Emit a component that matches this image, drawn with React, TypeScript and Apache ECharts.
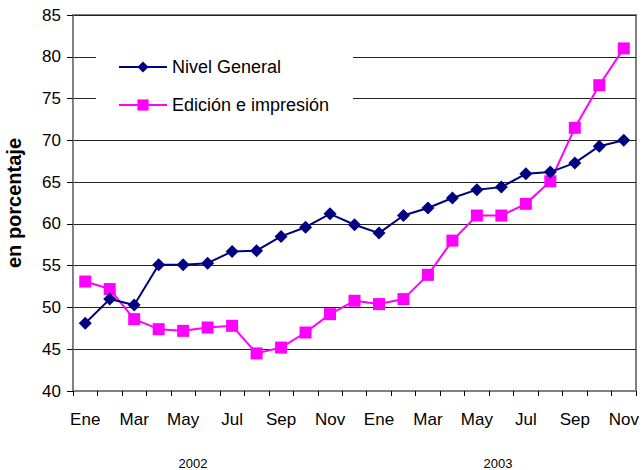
import React, { useEffect, useRef } from "react";
import * as echarts from "echarts";

const months = [
  "Ene", "Feb", "Mar", "Abr", "May", "Jun", "Jul", "Ago", "Sep", "Oct", "Nov", "Dic",
  "Ene", "Feb", "Mar", "Abr", "May", "Jun", "Jul", "Ago", "Sep", "Oct", "Nov",
];
const nivelGeneral = [
  48.1, 51.0, 50.3, 55.1, 55.1, 55.3, 56.7, 56.8, 58.5, 59.6, 61.2, 59.9,
  58.9, 61.0, 61.9, 63.1, 64.1, 64.4, 66.0, 66.2, 67.3, 69.3, 70.0,
];
const edicion = [
  53.1, 52.2, 48.6, 47.4, 47.2, 47.6, 47.8, 44.5, 45.2, 47.0, 49.2, 50.8,
  50.4, 51.0, 53.9, 58.0, 61.0, 61.0, 62.4, 65.1, 71.5, 76.6, 81.0,
];
const years = ["2002", "2003"];
const seriesNames = ["Nivel General", "Edición e impresión"];
const yAxisName = "en porcentaje";

const FONT = "Arial, 'Liberation Sans', sans-serif";

export default function App() {
  const ref = useRef<HTMLDivElement>(null);
  useEffect(() => {
    if (!ref.current) return;
    const chart = echarts.init(ref.current, null, { renderer: "svg" });
    chart.setOption({
      animation: false,
      backgroundColor: "#ffffff",
      textStyle: { fontFamily: FONT },
      grid: {
        left: 73,
        right: 7,
        top: 15,
        bottom: 79,
        containLabel: false,
        outerBoundsMode: "none",
        show: true,
        borderColor: "#808080",
        borderWidth: 2,
        backgroundColor: "transparent",
      },
      legend: {
        orient: "vertical",
        left: 96,
        top: 45,
        padding: [13, 24, 13, 22],
        backgroundColor: "#ffffff",
        itemWidth: 48,
        itemHeight: 14,
        itemGap: 20,
        textStyle: { fontSize: 18, color: "#000", fontFamily: FONT },
        data: seriesNames,
      },
      xAxis: {
        type: "category",
        data: months,
        boundaryGap: true,
        axisLine: { lineStyle: { color: "#808080", width: 2 } },
        axisTick: { show: true, interval: 0, length: 5, lineStyle: { color: "#000" } },
        axisLabel: {
          interval: 1,
          margin: 20,
          fontSize: 17,
          color: "#000",
          fontFamily: FONT,
        },
        splitLine: { show: false },
      },
      yAxis: {
        type: "value",
        min: 40,
        max: 85,
        interval: 5,
        name: yAxisName,
        nameLocation: "middle",
        nameGap: 49,
        nameTextStyle: { fontSize: 20, fontWeight: "bold", color: "#000", fontFamily: FONT },
        axisLine: { show: true, lineStyle: { color: "#808080", width: 2 } },
        axisTick: { show: true, length: 6, lineStyle: { color: "#000" } },
        axisLabel: { margin: 12, fontSize: 17, color: "#000", fontFamily: FONT },
        splitLine: { show: true, lineStyle: { color: "#222", width: 1 } },
      },
      graphic: [
        {
          type: "text",
          x: 193,
          y: 463,
          style: { text: years[0], font: `13px ${FONT}`, fill: "#000", align: "center", verticalAlign: "middle" },
        },
        {
          type: "text",
          x: 498,
          y: 463,
          style: { text: years[1], font: `13px ${FONT}`, fill: "#000", align: "center", verticalAlign: "middle" },
        },
      ],
      series: [
        {
          name: seriesNames[0],
          type: "line",
          data: nivelGeneral,
          symbol: "diamond",
          symbolSize: 13,
          lineStyle: { color: "#000080", width: 2 },
          itemStyle: { color: "#000080" },
          z: 3,
        },
        {
          name: seriesNames[1],
          type: "line",
          data: edicion,
          symbol: "rect",
          symbolSize: 12,
          lineStyle: { color: "#ff00ff", width: 2 },
          itemStyle: { color: "#ff00ff" },
          z: 2,
        },
      ],
    });
    return () => chart.dispose();
  }, []);
  return (
    <div
      ref={ref}
      style={{ position: "fixed", left: 0, top: 0, width: 643, height: 470 }}
    />
  );
}
